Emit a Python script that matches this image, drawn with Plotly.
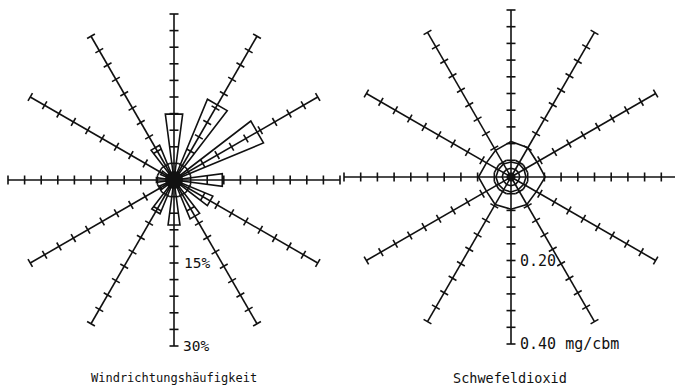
import numpy as np
import plotly.graph_objects as go

# ---------------- data ----------------
directions = [0, 30, 60, 90, 120, 150, 180, 210, 240, 270, 300, 330]   # degrees, clockwise from north
wind_freq = [12.0, 15.8, 17.5, 8.8, 7.6, 7.6, 8.2, 6.6, 2.8, 3.2, 2.6, 6.8]  # %
so2_outer = [0.085, 0.081, 0.072, 0.082, 0.070, 0.076, 0.077, 0.076, 0.068, 0.078, 0.068, 0.074]  # mg/cbm
so2_middle = [0.036, 0.037, 0.036, 0.036, 0.035, 0.035, 0.036, 0.035, 0.035, 0.036, 0.035, 0.036]
so2_inner = [0.021, 0.021, 0.021, 0.021, 0.020, 0.021, 0.021, 0.021, 0.020, 0.021, 0.021, 0.021]
wind_ticks = [3, 6, 9, 12, 15, 18, 21, 24, 27, 30]
so2_ticks = [0.04, 0.08, 0.12, 0.16, 0.20, 0.24, 0.28, 0.32, 0.36, 0.40]
wind_axis_max = 30
so2_axis_max = 0.40
wind_tick_labels = ["15%", "30%"]
wind_label_values = [15, 30]
so2_tick_labels = ["0.20", "0.40 mg/cbm"]
so2_label_values = [0.20, 0.40]
titles = ["Windrichtungshäufigkeit", "Schwefeldioxid"]

# ---------------- styling / layout constants ----------------
W, H = 675, 387
SPLIT = 343
L_CX, L_CY, L_R = 174, 180, 166
R_CX, R_CY, R_R = 511, 177, 167
kL = L_R / wind_axis_max
kR = R_R / so2_axis_max
TICK_HALF_PX = 4.5
WEDGE_HALF_DEG = 7.5
INK = "#111111"
LW = 1.6
FONT = "DejaVu Sans Mono"


def polar_xy(r, bearing_deg):
    t = np.radians(bearing_deg)
    return r * np.sin(t), r * np.cos(t)


def spokes_and_ticks(rmax, ticks, k):
    xs, ys = [], []
    h = TICK_HALF_PX / k
    for d in directions:
        x1, y1 = polar_xy(rmax, d)
        xs += [0, x1, None]
        ys += [0, y1, None]
        t = np.radians(d)
        px, py = np.cos(t), -np.sin(t)
        for r in ticks:
            cx, cy = polar_xy(r, d)
            xs += [cx - h * px, cx + h * px, None]
            ys += [cy - h * py, cy + h * py, None]
    return xs, ys


fig = go.Figure()

# ---- left: wind direction frequency ----
sx, sy = spokes_and_ticks(wind_axis_max, wind_ticks, kL)
fig.add_trace(go.Scatter(x=sx, y=sy, mode="lines", line=dict(color=INK, width=LW),
                         hoverinfo="skip", showlegend=False, xaxis="x", yaxis="y"))

wx, wy = [], []
for d, f in zip(directions, wind_freq):
    ax, ay = polar_xy(f, d - WEDGE_HALF_DEG)
    bx, by = polar_xy(f, d + WEDGE_HALF_DEG)
    wx += [0, ax, bx, 0, None]
    wy += [0, ay, by, 0, None]
fig.add_trace(go.Scatter(x=wx, y=wy, mode="lines", line=dict(color=INK, width=LW),
                         hoverinfo="skip", showlegend=False, xaxis="x", yaxis="y"))
fig.add_trace(go.Scatter(x=[0], y=[0], mode="markers", marker=dict(color=INK, size=18),
                         hoverinfo="skip", showlegend=False, xaxis="x", yaxis="y"))

# ---- right: sulphur dioxide ----
sx2, sy2 = spokes_and_ticks(so2_axis_max, so2_ticks, kR)
fig.add_trace(go.Scatter(x=sx2, y=sy2, mode="lines", line=dict(color=INK, width=LW),
                         hoverinfo="skip", showlegend=False, xaxis="x2", yaxis="y2"))
for ring in (so2_outer, so2_middle, so2_inner):
    px_, py_ = polar_xy(np.array(ring + ring[:1]), np.array(directions + directions[:1]))
    fig.add_trace(go.Scatter(x=px_, y=py_, mode="lines", line=dict(color=INK, width=LW),
                             hoverinfo="skip", showlegend=False, xaxis="x2", yaxis="y2"))
fig.add_trace(go.Scatter(x=[0], y=[0], mode="markers", marker=dict(color=INK, size=9),
                         hoverinfo="skip", showlegend=False, xaxis="x2", yaxis="y2"))

# ---- labels ----
annotations = []
for txt, v, sh in zip(wind_tick_labels, wind_label_values, [8, 7]):
    annotations.append(dict(x=0, y=-v, xref="x", yref="y", text=txt, showarrow=False,
                            xanchor="left", yanchor="middle", xshift=sh,
                            font=dict(family=FONT, size=14.5, color=INK)))
for txt, v in zip(so2_tick_labels, so2_label_values):
    annotations.append(dict(x=0, y=-v, xref="x2", yref="y2", text=txt, showarrow=False,
                            xanchor="left", yanchor="middle", xshift=7,
                            font=dict(family=FONT, size=15, color=INK)))
annotations.append(dict(x=L_CX / W, y=1 - 378 / H, xref="paper", yref="paper", text=titles[0],
                        showarrow=False, xanchor="center", yanchor="middle",
                        font=dict(family=FONT, size=12, color=INK)))
annotations.append(dict(x=510 / W, y=1 - 378 / H, xref="paper", yref="paper", text=titles[1],
                        showarrow=False, xanchor="center", yanchor="middle",
                        font=dict(family=FONT, size=13.5, color=INK)))

hidden = dict(visible=False, showgrid=False, zeroline=False, fixedrange=True)
fig.update_layout(
    width=W, height=H, margin=dict(l=0, r=0, t=0, b=0),
    paper_bgcolor="white", plot_bgcolor="white",
    xaxis=dict(domain=[0, SPLIT / W], range=[(0 - L_CX) / kL, (SPLIT - L_CX) / kL], **hidden),
    yaxis=dict(domain=[0, 1], range=[(L_CY - H) / kL, L_CY / kL], **hidden),
    xaxis2=dict(domain=[SPLIT / W, 1], range=[(SPLIT - R_CX) / kR, (W - R_CX) / kR], **hidden),
    yaxis2=dict(domain=[0, 1], range=[(R_CY - H) / kR, R_CY / kR], anchor="x2", **hidden),
    annotations=annotations,
    showlegend=False,
)
fig.write_html("out.html", config={"displayModeBar": False, "staticPlot": True},
               post_script="document.body.style.margin='0';document.body.style.overflow='hidden';")
